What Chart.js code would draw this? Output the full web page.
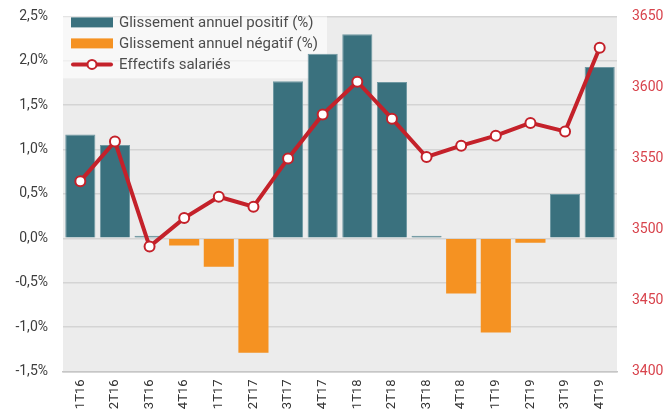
<!DOCTYPE html>
<html>
<head>
<meta charset="utf-8">
<script src="https://cdn.jsdelivr.net/npm/chart.js@4.4.1/dist/chart.umd.min.js"></script>
<style>
  html, body { margin: 0; padding: 0; background: #ffffff; overflow: hidden; }
  #wrap { width: 669px; height: 414px; position: relative; overflow: hidden; }
  #chart { position: absolute; left: 0; top: -7px; }
</style>
</head>
<body>
<div id="wrap"><canvas id="chart" width="669" height="421"></canvas></div>
<script>
// Données
const trimestres = ["1T16", "2T16", "3T16", "4T16", "1T17", "2T17", "3T17", "4T17",
                    "1T18", "2T18", "3T18", "4T18", "1T19", "2T19", "3T19", "4T19"];
const glissement = [1.17, 1.05, 0.03, -0.08, -0.32, -1.29, 1.77, 2.08,
                    2.30, 1.76, 0.03, -0.62, -1.06, -0.05, 0.50, 1.93];
const effectifs = [3534, 3562, 3488, 3508, 3523, 3516, 3550, 3581,
                   3604, 3578, 3551, 3559, 3566, 3575, 3569, 3628];
const legendLabels = ["Glissement annuel positif (%)", "Glissement annuel négatif (%)", "Effectifs salariés"];

const COL_POS = "#3a717e";
const COL_NEG = "#f59222";
const COL_LINE = "#c4212a";

const positifs = glissement.map(v => v >= 0 ? v : null);
const negatifs = glissement.map(v => v < 0 ? v : null);

// fond gris de la zone de tracé
const plotBg = {
    id: "plotBg",
    beforeDraw(chart) {
        const { ctx, chartArea: a } = chart;
        ctx.save();
        ctx.fillStyle = "#ececec";
        ctx.fillRect(a.left, a.top, a.right - a.left, a.bottom - a.top);
        ctx.restore();
    }
};

// légende dessinée dans la zone de tracé
const insideLegend = {
    id: "insideLegend",
    beforeDatasetsDraw(chart) {
        const { ctx, chartArea: a } = chart;
        const x0 = a.left, y0 = a.top;
        ctx.save();
        ctx.fillStyle = "rgba(255,255,255,0.62)";
        ctx.fillRect(x0, y0, 264, 62);
        ctx.font = "15px Roboto";
        ctx.textBaseline = "middle";
        const rows = [y0 + 6, y0 + 27, y0 + 48];
        // carrés couleur
        ctx.fillStyle = COL_POS;
        ctx.fillRect(x0 + 8, rows[0] - 5, 42, 10);
        ctx.fillStyle = COL_NEG;
        ctx.fillRect(x0 + 8, rows[1] - 5, 42, 10);
        // ligne + point
        ctx.strokeStyle = COL_LINE;
        ctx.lineWidth = 4;
        ctx.lineCap = "round";
        ctx.beginPath();
        ctx.moveTo(x0 + 10, rows[2]);
        ctx.lineTo(x0 + 48, rows[2]);
        ctx.stroke();
        ctx.beginPath();
        ctx.arc(x0 + 29, rows[2], 4.5, 0, Math.PI * 2);
        ctx.fillStyle = "#ffffff";
        ctx.fill();
        ctx.lineWidth = 2;
        ctx.stroke();
        ctx.fillStyle = "#4d4d4d";
        legendLabels.forEach((t, i) => ctx.fillText(t, x0 + 56, rows[i] + 1));
        ctx.restore();
    }
};

function fmtPct(v) {
    return v.toFixed(1).replace(".", ",") + "%";
}

new Chart(document.getElementById("chart"), {
    data: {
        labels: trimestres,
        datasets: [
            {
                type: "line",
                label: legendLabels[2],
                data: effectifs,
                yAxisID: "y2",
                borderColor: COL_LINE,
                borderWidth: 4,
                pointRadius: 5,
                pointBorderWidth: 2,
                pointBackgroundColor: "#ffffff",
                pointBorderColor: COL_LINE,
                tension: 0,
                order: 0
            },
            {
                type: "bar",
                label: legendLabels[0],
                data: positifs,
                yAxisID: "y",
                backgroundColor: COL_POS,
                borderColor: "#6f98a2",
                borderWidth: 1,
                barPercentage: 0.87,
                categoryPercentage: 1,
                order: 1
            },
            {
                type: "bar",
                label: legendLabels[1],
                data: negatifs,
                yAxisID: "y",
                backgroundColor: COL_NEG,
                barPercentage: 0.87,
                categoryPercentage: 1,
                order: 2
            }
        ]
    },
    options: {
        responsive: false,
        animation: false,
        layout: { padding: { top: 8, left: 0, right: 0, bottom: 0 } },
        plugins: {
            legend: { display: false },
            tooltip: { enabled: false }
        },
        scales: {
            x: {
                stacked: true,
                grid: { display: false, drawTicks: false },
                border: { display: true, color: "#c6c6c6", width: 1.5 },
                ticks: {
                    color: "#333333",
                    font: { family: "Roboto", size: 13 },
                    minRotation: 90,
                    maxRotation: 90,
                    padding: 8
                },
                afterFit(axis) { axis.height = 42.5; }
            },
            y: {
                position: "left",
                min: -1.5,
                max: 2.5,
                ticks: {
                    stepSize: 0.5,
                    color: "#3d3d3d",
                    font: { family: "Roboto", size: 14 },
                    padding: 15,
                    callback: v => fmtPct(v)
                },
                grid: { color: "#d4d4d4", lineWidth: 1.5, drawTicks: false },
                border: { display: false },
                afterFit(axis) { axis.width = 63; }
            },
            y2: {
                position: "right",
                min: 3400,
                max: 3650,
                ticks: {
                    stepSize: 50,
                    color: "#d8434c",
                    font: { family: "Roboto", size: 14 },
                    padding: 15,
                    callback: v => String(v)
                },
                grid: { display: false, drawTicks: false },
                border: { display: false },
                afterFit(axis) { axis.width = 52; }
            }
        }
    },
    plugins: [plotBg, insideLegend]
});
</script>
</body>
</html>
